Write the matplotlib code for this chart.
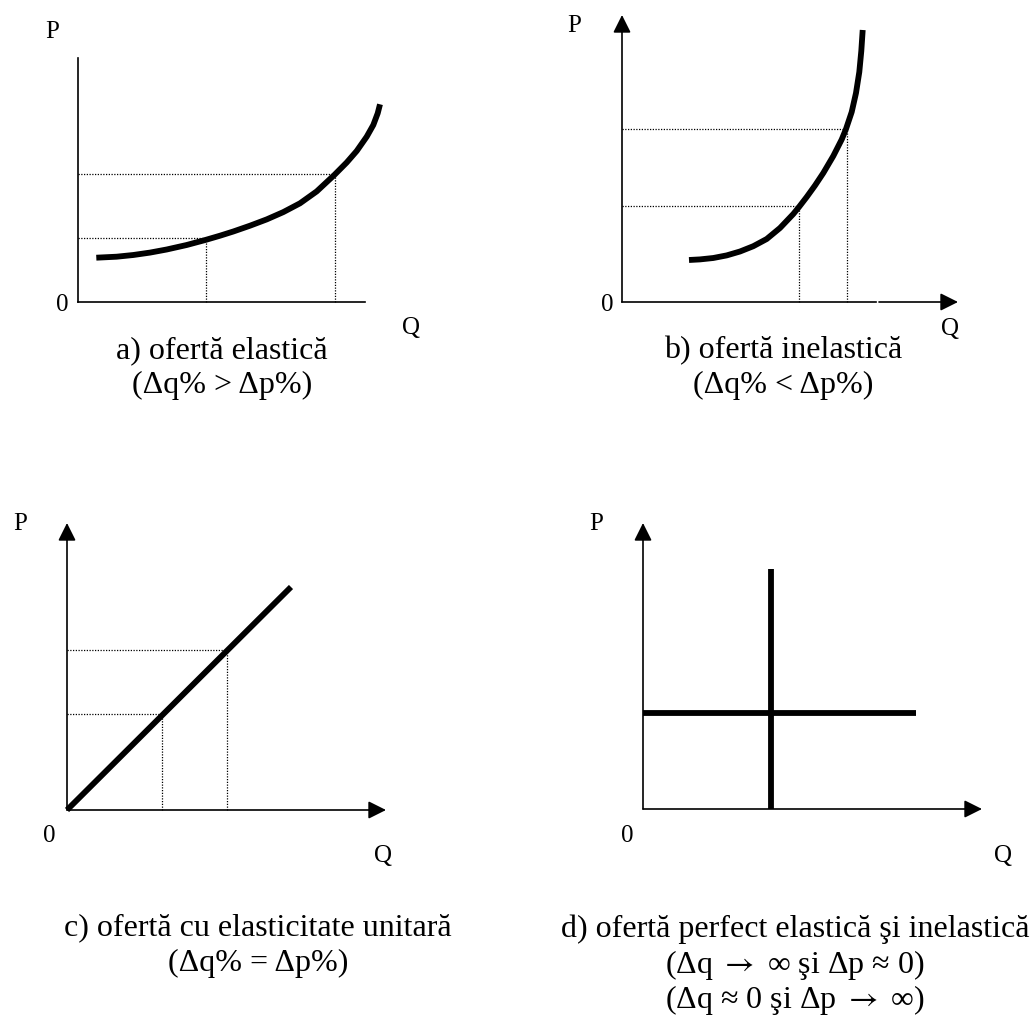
import matplotlib
matplotlib.use("Agg")
import matplotlib.pyplot as plt

plt.rcParams['font.family'] = ['Liberation Serif', 'DejaVu Serif']
plt.rcParams['mathtext.fontset'] = 'stix'

# ---------------- data (Q, P in units of the drawing) ----------------
# a) elastic supply
a_q = [18.3, 38.7, 55.3, 72.0, 88.7, 108.7, 128.0, 142.0, 155.3, 172.0,
       188.7, 205.3, 222.0, 238.7, 256.3, 268.7, 278.7, 288.7, 295.3,
       299.7, 302.0]
a_p = [44.3, 45.3, 47.0, 49.4, 52.5, 57.0, 62.2, 66.3, 70.5, 76.3,
       82.6, 89.9, 98.7, 110.6, 127.0, 139.5, 151.0, 165.3, 177.0,
       188.7, 197.7]
a_guide_q = [128, 257]
a_guide_p = [64, 128]

# b) inelastic supply
b_q = [67.0, 78.0, 91.3, 104.7, 118.0, 131.3, 144.7, 158.0, 171.3, 177.0,
       184.7, 193.0, 201.3, 211.3, 219.7, 224.0, 229.7, 234.0, 237.3,
       239.3, 240.7]
b_p = [42.0, 42.6, 44.0, 46.6, 50.5, 55.8, 63.0, 74.0, 88.0, 95.0,
       105.0, 116.5, 129.0, 146.0, 162.5, 173.0, 190.0, 209.0, 230.0,
       251.0, 272.0]
b_guide_q = [177, 225]
b_guide_p = [96, 173]

# c) unit elasticity
c_q = [0, 224]
c_p = [0, 223]
c_guide_q = [95, 160]
c_guide_p = [96, 160]

# d) perfectly elastic / inelastic
d_vert_q = 128
d_vert_p = [0, 240]
d_horiz_p = 96
d_horiz_q = [0, 273]

ARROW = r"$\rightarrow$"
captions = {
    'a': ["a) ofertă elastică", "(Δq% > Δp%)"],
    'b': ["b) ofertă inelastică", "(Δq% < Δp%)"],
    'c': ["c) ofertă cu elasticitate unitară", "(Δq% = Δp%)"],
    'd': ["d) ofertă perfect elastică şi inelastică",
          "(Δq " + ARROW + " ∞ şi Δp ≈ 0)",
          "(Δq ≈ 0 şi Δp " + ARROW + " ∞)"],
}

# ---------------- drawing ----------------
W, H = 1031, 1016
fig = plt.figure(figsize=(W / 100, H / 100), dpi=100)

AX_LW = 1.2
CURVE_LW = 4.2
DOT = dict(color='black', lw=0.9, linestyle=(0, (1.0, 1.2)), clip_on=False)


def panel(ox, oy, xlen, ylen):
    ax = fig.add_axes([ox / W, 1 - oy / H, xlen / W, ylen / H])
    ax.set_xlim(0, xlen)
    ax.set_ylim(0, ylen)
    ax.axis('off')
    return ax


def arrow(ax, x0, y0, x1, y1):
    ax.annotate('', xy=(x1, y1), xytext=(x0, y0), xycoords='data',
                annotation_clip=False,
                arrowprops=dict(arrowstyle='-|>,head_length=0.9,head_width=0.45',
                                mutation_scale=12, lw=AX_LW, color='black',
                                shrinkA=0, shrinkB=0))


def ftext(x, y, s, size, ha='center'):
    fig.text(x / W, 1 - y / H, s, ha=ha, va='baseline', fontsize=size,
             color='black')


def guides(ax, qs, ps):
    for q, p in zip(qs, ps):
        ax.plot([0, q], [p, p], **DOT)
        ax.plot([q, q], [0, p], **DOT)


LBL = 18
CAP = 23

# ---- panel a ----
ax = panel(78, 302, 287, 244)
ax.plot([0, 0], [0, 244], color='black', lw=AX_LW, clip_on=False)
ax.plot([0, 287], [0, 0], color='black', lw=AX_LW, clip_on=False)
guides(ax, a_guide_q, a_guide_p)
ax.plot(a_q, a_p, color='black', lw=CURVE_LW, solid_capstyle='butt',
        solid_joinstyle='round', clip_on=False)
ftext(52, 38, "P", LBL)
ftext(62, 311, "0", LBL)
ftext(411, 334, "Q", LBL)
ftext(222, 358, captions['a'][0], CAP)
ftext(222, 393, captions['a'][1], CAP)

# ---- panel b ----
ax = panel(622, 302, 336, 287)
arrow(ax, 0, 0, 0, 287)
ax.plot([0, 254], [0, 0], color='black', lw=AX_LW, clip_on=False)
arrow(ax, 257, 0, 336, 0)
guides(ax, b_guide_q, b_guide_p)
ax.plot(b_q, b_p, color='black', lw=CURVE_LW, solid_capstyle='butt',
        solid_joinstyle='round', clip_on=False)
ftext(574, 32, "P", LBL)
ftext(607, 311, "0", LBL)
ftext(950, 335, "Q", LBL)
ftext(783, 358, captions['b'][0], CAP)
ftext(783, 393, captions['b'][1], CAP)

# ---- panel c ----
ax = panel(67, 810, 319, 287)
arrow(ax, 0, 0, 0, 287)
arrow(ax, 0, 0, 319, 0)
guides(ax, c_guide_q, c_guide_p)
ax.plot(c_q, c_p, color='black', lw=CURVE_LW, solid_capstyle='butt',
        clip_on=False)
ftext(20, 530, "P", LBL)
ftext(49, 842, "0", LBL)
ftext(383, 862, "Q", LBL)
ftext(258, 935, captions['c'][0], CAP)
ftext(258, 971, captions['c'][1], CAP)

# ---- panel d ----
ax = panel(643, 809, 339, 286)
arrow(ax, 0, 0, 0, 286)
arrow(ax, 0, 0, 339, 0)
ax.plot([d_vert_q, d_vert_q], d_vert_p, color='black', lw=CURVE_LW,
        solid_capstyle='butt', clip_on=False)
ax.plot(d_horiz_q, [d_horiz_p, d_horiz_p], color='black', lw=CURVE_LW,
        solid_capstyle='butt', clip_on=False)
ftext(596, 530, "P", LBL)
ftext(627, 842, "0", LBL)
ftext(1003, 862, "Q", LBL)
ftext(795, 937, captions['d'][0], CAP)
ftext(795, 973, captions['d'][1], CAP)
ftext(795, 1008, captions['d'][2], CAP)

fig.savefig("out.png", dpi=100, facecolor='white')
